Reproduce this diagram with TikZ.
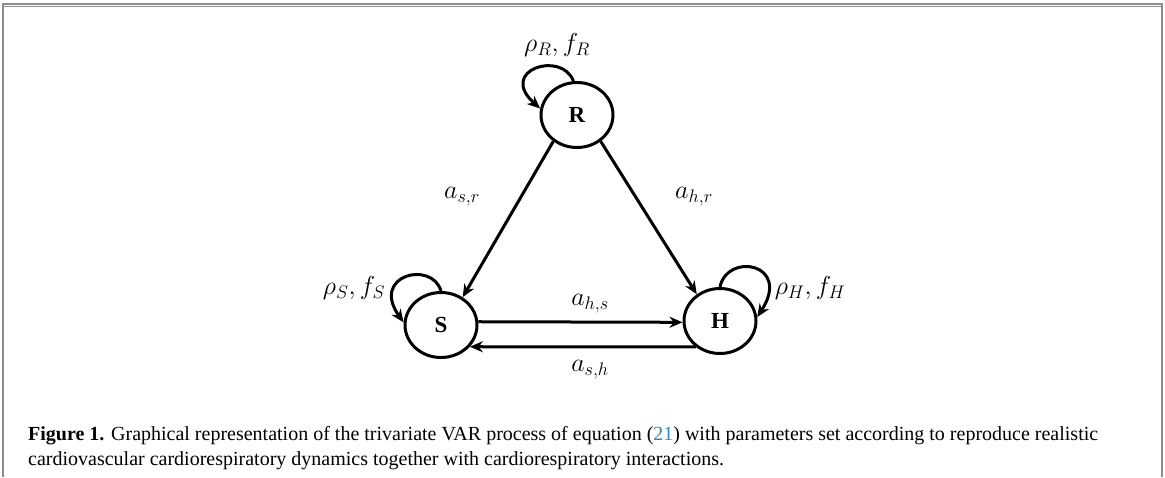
\RequirePackage{fix-cm}
\documentclass[tikz,border=0pt]{standalone}
\usepackage{fontspec}
\setmainfont{Liberation Serif}
\usetikzlibrary{arrows.meta,shapes.geometric}
\definecolor{framegray}{HTML}{8C8C8C}
\definecolor{refblue}{HTML}{2A8BC4}
\begin{document}
\begin{tikzpicture}[x=1pt,y=-1pt,
  state/.style={draw, line width=3pt, ellipse, minimum width=72pt, minimum height=65pt, inner sep=0pt, font=\fontsize{23}{27}\selectfont\bfseries},
  conn/.style={line width=3pt, -{Stealth[length=13pt,width=11pt]}},
  lbl/.style={font=\fontsize{26}{30}\selectfont},
  captxt/.style={anchor=base west, inner sep=0pt, font=\fontsize{20}{24}\selectfont},
  frameline/.style={draw=framegray, line width=1.5pt}]
\useasboundingbox (0,0) rectangle (1165,477);
% frame
\draw[frameline] (3,477) -- (3,4) -- (1162,4) -- (1162,477);
\draw[framegray, line width=1pt] (3,6.5) -- (1162,6.5);
% nodes
\node[state] (R) at (577,115) {R};
\node[state] (S) at (441,325) {S};
\node[state] (H) at (720,321) {H};
% connectors
\draw[conn] (R.228) -- (S.52);
\draw[conn] (R.-48) -- (H.131);
\draw[conn] (S.5) -- (H.182);
\draw[conn] (H.227) -- (S.-37);
% self loops
\draw[conn] (R.96) .. controls (562,50) and (497,70) .. (R.170);
\draw[conn] (S.90) .. controls (432,260) and (370,275) .. (S.176);
\draw[conn] (H.90) .. controls (727,252) and (792,263) .. (H.6);
% labels
\node[lbl] (lRR) at (557,45) {$\rho_R, f_R$};
\node[lbl] (lSS) at (354,288) {$\rho_S, f_S$};
\node[lbl] (lHH) at (810,288) {$\rho_H, f_H$};
\node[lbl] (lsr) at (462,197) {$a_{s,r}$};
\node[lbl] (lhr) at (694,197) {$a_{h,r}$};
\node[lbl] (lhs) at (590,304) {$a_{h,s}$};
\node[lbl] (lsh) at (590,370) {$a_{s,h}$};
% caption
\node[captxt] (c1) at (28,440) {\textbf{Figure 1.} Graphical representation of the trivariate VAR process of equation (\textcolor{refblue}{21}) with parameters set according to reproduce realistic};
\node[captxt] (c2) at (28,465) {cardiovascular cardiorespiratory dynamics together with cardiorespiratory interactions.};
\end{tikzpicture}
\end{document}
